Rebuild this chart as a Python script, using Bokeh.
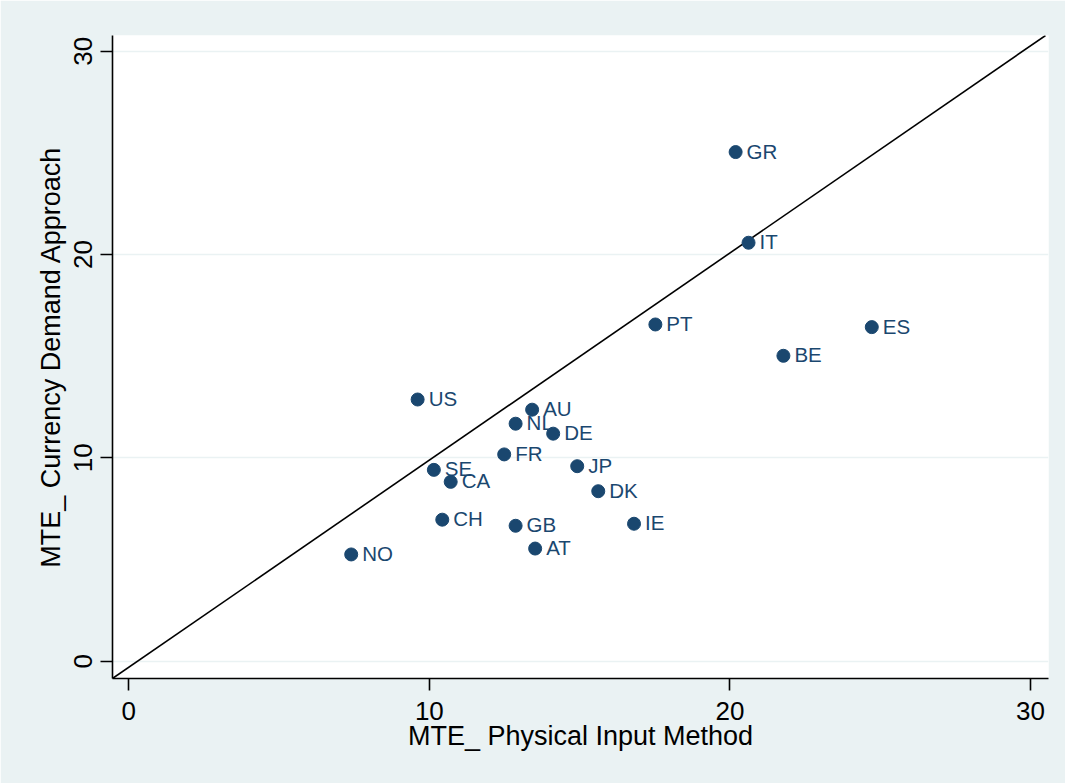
from bokeh.plotting import figure
from bokeh.models import Range1d, FixedTicker, ColumnDataSource
from bokeh.core.properties import value
from bokeh.embed import file_html
from bokeh.resources import INLINE

# ---- data ----
countries = ["GR", "IT", "PT", "ES", "BE", "US", "AU", "NL", "DE", "FR",
             "SE", "CA", "JP", "DK", "CH", "GB", "IE", "AT", "NO"]
mte_physical = [20.19, 20.62, 17.52, 24.72, 21.78, 9.61, 13.42, 12.87, 14.12, 12.49,
                10.15, 10.71, 14.92, 15.62, 10.43, 12.87, 16.81, 13.52, 7.40]
mte_currency = [25.04, 20.58, 16.56, 16.43, 15.02, 12.87, 12.37, 11.68, 11.19, 10.17,
                9.41, 8.82, 9.59, 8.36, 6.96, 6.66, 6.76, 5.54, 5.25]
x_ticks = [0, 10, 20, 30]
y_ticks = [0, 10, 20, 30]
x_limits = [-0.542, 30.6]
y_limits = [-0.851, 30.772]
# reference (diagonal) line end points
diag_x = [-0.542, 30.5]
diag_y = [-0.851, 30.772]

x_title = "MTE_ Physical Input Method"
y_title = "MTE_ Currency Demand Approach"

NAVY = "#1A476F"
BG = "#EAF2F3"
FONT = "Liberation Sans"

p = figure(width=1065, height=783,
           x_range=Range1d(*x_limits), y_range=Range1d(*y_limits),
           output_backend="svg", toolbar_location=None,
           min_border_left=112, min_border_top=35,
           min_border_right=17, min_border_bottom=105)

p.background_fill_color = "white"
p.border_fill_color = BG
p.outline_line_color = None

# grid
p.xgrid.grid_line_color = None
p.ygrid.grid_line_color = BG
p.ygrid.grid_line_width = 1.5
p.ygrid.ticker = FixedTicker(ticks=y_ticks)

for ax in (p.xaxis[0], p.yaxis[0]):
    ax.axis_line_color = "black"
    ax.axis_line_width = 1.6
    ax.major_tick_line_color = "black"
    ax.major_tick_line_width = 1.6
    ax.major_tick_out = 12
    ax.major_tick_in = 0
    ax.minor_tick_line_color = None
    ax.major_label_text_font = FONT
    ax.major_label_text_font_size = "26px"
    ax.major_label_text_color = "black"
    ax.axis_label_text_font = FONT
    ax.axis_label_text_font_size = "27px"
    ax.axis_label_text_font_style = "normal"
    ax.axis_label_text_color = "black"

p.xaxis.ticker = FixedTicker(ticks=x_ticks)
p.yaxis.ticker = FixedTicker(ticks=y_ticks)
p.xaxis.axis_label = x_title
p.yaxis.axis_label = y_title
p.yaxis.major_label_orientation = "vertical"
p.xaxis.major_label_standoff = 11
p.xaxis.axis_label_standoff = -2
p.yaxis.major_label_standoff = 8
p.yaxis.axis_label_standoff = 6

# diagonal line
p.line(diag_x, diag_y, line_color="black", line_width=1.6)

src = ColumnDataSource(dict(x=mte_physical, y=mte_currency, name=countries))
p.scatter("x", "y", source=src, size=13, fill_color=NAVY, line_color=NAVY)
p.text("x", "y", text="name", source=src, x_offset=11, y_offset=-1,
       text_baseline="middle", text_align="left",
       text_font=value(FONT), text_font_size="20.5px", text_color=NAVY)

open("out.html", "w").write(file_html(p, INLINE))
